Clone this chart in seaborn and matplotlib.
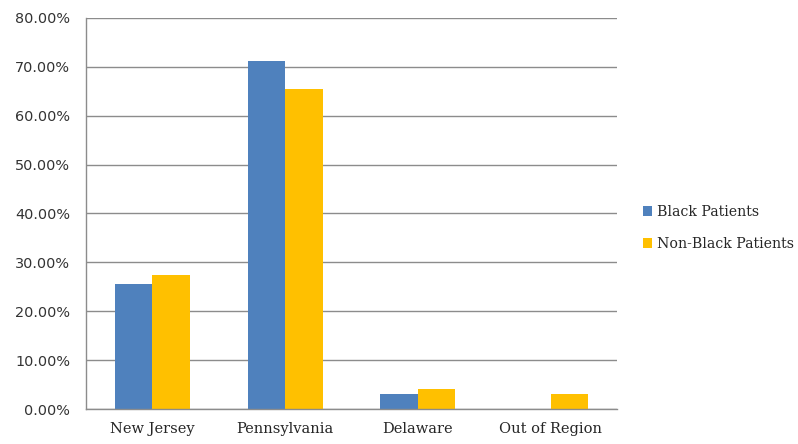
import pandas as pd
import numpy as np
import matplotlib
matplotlib.use("Agg")
import matplotlib.pyplot as plt
import seaborn as sns
from matplotlib.ticker import FuncFormatter, FixedLocator

# ---- data ----
regions = ["New Jersey", "Pennsylvania", "Delaware", "Out of Region"]
black_pct = [25.5, 71.3, 3.1, 0.0]
non_black_pct = [27.4, 65.4, 4.1, 3.1]
series = ["Black Patients", "Non-Black Patients"]
colors = ["#4F81BD", "#FFC000"]

df = pd.DataFrame({
    "Region": regions * 2,
    "Group": [series[0]] * len(regions) + [series[1]] * len(regions),
    "Pct": black_pct + non_black_pct,
})

sns.set_style("white")
plt.rcParams["font.family"] = ["DejaVu Sans"]

fig = plt.figure(figsize=(7.98, 4.44), dpi=100)
ax = fig.add_axes([0.1078, 0.0788, 0.6654, 0.8807])

sns.barplot(data=df, x="Region", y="Pct", hue="Group", order=regions,
            hue_order=series, palette=colors, width=0.566, saturation=1,
            linewidth=0, ax=ax, legend=True)

ax.set_ylim(0, 80)
ax.set_xlim(-0.5, len(regions) - 0.5)
ax.set_yticks(np.arange(0, 81, 10))
ax.yaxis.set_major_formatter(FuncFormatter(lambda v, p: f"{v:.2f}%"))
ax.yaxis.grid(True, color="#8C8C8C", linewidth=1)
ax.set_axisbelow(True)
ax.set_xlabel("")
ax.set_ylabel("")

for s in ["top", "right"]:
    ax.spines[s].set_visible(False)
for s in ["left", "bottom"]:
    ax.spines[s].set_color("#8C8C8C")
    ax.spines[s].set_linewidth(1)

ax.tick_params(axis="y", length=0, labelsize=10.4, labelcolor="#333333", pad=11.5)
ax.tick_params(axis="x", which="major", length=0, labelsize=10.5, pad=9)
ax.xaxis.set_minor_locator(FixedLocator(np.arange(-0.5, len(regions), 1.0)))
ax.tick_params(axis="x", which="minor", length=5, color="#8C8C8C", width=1)
for lbl in ax.get_xticklabels():
    lbl.set_family("DejaVu Serif")

leg = ax.legend(loc="center left", bbox_to_anchor=(1.048, 0.463), frameon=False,
                handlelength=0.7, handleheight=0.7, handletextpad=0.35,
                labelspacing=1.25, borderpad=0, borderaxespad=0,
                prop={"family": "DejaVu Serif", "size": 10.2})

fig.savefig("out.png", dpi=100)
